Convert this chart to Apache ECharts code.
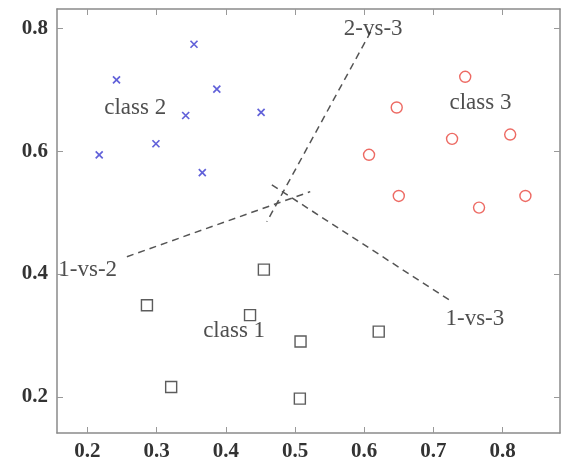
<!DOCTYPE html>
<html>
<head>
<meta charset="utf-8">
<script src="https://cdn.jsdelivr.net/npm/echarts@6/dist/echarts.min.js"></script>
<style>
html,body{margin:0;padding:0;background:#fff;}
#chart{width:568px;height:463px;}
</style>
</head>
<body>
<div id="chart"></div>
<script>
// Tick labels
const xTicks = [0.2, 0.3, 0.4, 0.5, 0.6, 0.7, 0.8];
const yTicks = [0.2, 0.4, 0.6, 0.8];

// Class 1 (squares)
const class1 = [[0.455,0.407],[0.286,0.349],[0.435,0.333],[0.321,0.216],[0.508,0.290],[0.621,0.306],[0.507,0.197]];
// Class 2 (crosses)
const class2 = [[0.242,0.716],[0.354,0.774],[0.342,0.658],[0.299,0.612],[0.217,0.594],[0.387,0.701],[0.451,0.663],[0.366,0.565]];
// Class 3 (circles)
const class3 = [[0.746,0.721],[0.647,0.671],[0.811,0.627],[0.727,0.620],[0.607,0.594],[0.650,0.527],[0.766,0.508],[0.833,0.527]];

// Decision boundaries (segment endpoints)
const line2vs3 = [[0.6095,0.7945],[0.4593,0.485]];
const line1vs2 = [[0.257,0.428],[0.522,0.534]];
const line1vs3 = [[0.4665,0.545],[0.7266,0.355]];

// Text annotations
const annotations = [
  {name:'class 1', value:[0.412,0.307]},
  {name:'class 2', value:[0.269,0.670]},
  {name:'class 3', value:[0.768,0.678]},
  {name:'2-vs-3', value:[0.613,0.799]},
  {name:'1-vs-2', value:[0.2003,0.4064]},
  {name:'1-vs-3', value:[0.760,0.326]}
];

const FONT = '"Liberation Serif", "DejaVu Serif", serif';
const borderColor = '#8a8a8a';

const chart = echarts.init(document.getElementById('chart'), null, {renderer:'canvas'});

function xAxisDef(pos, showLabels){
  return {
    type:'value', position:pos, min:0.156, max:0.883,
    axisLine:{show:true, onZero:false, lineStyle:{color:borderColor, width:1.5}},
    axisTick:{show:true, inside:true, length:6, customValues:xTicks, lineStyle:{color:'#999', width:1}},
    axisLabel:{show:showLabels, customValues:xTicks, formatter:v=>v.toFixed(1), fontFamily:FONT, fontSize:21, fontWeight:'bold', color:'#333', margin:8},
    splitLine:{show:false}
  };
}
function yAxisDef(pos, showLabels){
  return {
    type:'value', position:pos, min:0.141, max:0.8314,
    axisLine:{show:true, onZero:false, lineStyle:{color:borderColor, width:1.5}},
    axisTick:{show:true, inside:true, length:6, customValues:yTicks, lineStyle:{color:'#999', width:1}},
    axisLabel:{show:showLabels, customValues:yTicks, formatter:v=>v.toFixed(1), fontFamily:FONT, fontSize:21, fontWeight:'bold', color:'#333', margin:9},
    splitLine:{show:false}
  };
}

const dashed = {color:'#555', width:1.5, type:[7,5]};

chart.setOption({
  backgroundColor:'#fff',
  animation:false,
  grid:{left:57, right:8, top:9, bottom:30, containLabel:false},
  xAxis:[xAxisDef('bottom', true), xAxisDef('top', false)],
  yAxis:[yAxisDef('left', true), yAxisDef('right', false)],
  series:[
    {type:'line', data:line2vs3, symbol:'none', lineStyle:dashed, z:1},
    {type:'line', data:line1vs2, symbol:'none', lineStyle:dashed, z:1},
    {type:'line', data:line1vs3, symbol:'none', lineStyle:dashed, z:1},
    {type:'scatter', data:class1, symbol:'rect', symbolSize:11,
     itemStyle:{color:'#fff', borderColor:'#333', borderWidth:1.4}, z:3},
    {type:'scatter', data:class2, symbol:'path://M0,0L10,10M10,0L0,10', symbolSize:7,
     itemStyle:{color:'rgba(0,0,0,0)', borderColor:'#3a3ad0', borderWidth:1.7}, z:3},
    {type:'scatter', data:class3, symbol:'circle', symbolSize:11,
     itemStyle:{color:'#fff', borderColor:'#e8453c', borderWidth:1.4}, z:3},
    {type:'scatter', data:annotations, symbolSize:0, z:4,
     label:{show:true, position:'inside', formatter:p=>p.name, fontFamily:FONT, fontSize:23, color:'#222'}}
  ]
});
</script>
</body>
</html>
